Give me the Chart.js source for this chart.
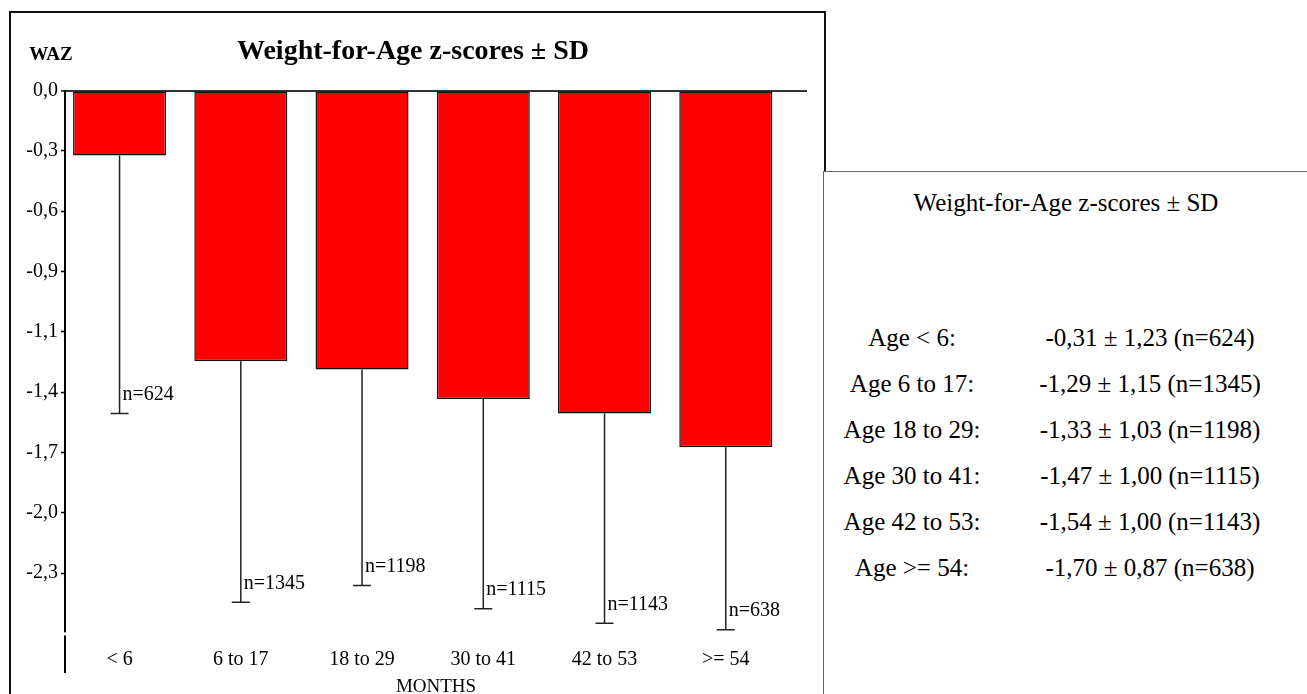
<!DOCTYPE html>
<html>
<head>
<meta charset="utf-8">
<script src="https://cdn.jsdelivr.net/npm/chart.js@4.4.1/dist/chart.umd.min.js"></script>
<style>
  html, body { margin: 0; padding: 0; background: #fff; }
  body { width: 1307px; height: 694px; position: relative; overflow: hidden; font-family: "Liberation Serif", "Times New Roman", serif; color: #000; }
  #leftBox { position: absolute; left: 9px; top: 11px; width: 813px; height: 720px; border: 2px solid #111; }
  #chartWrap { position: absolute; left: 0; top: 0; width: 826px; height: 700px; }
  #rightBox { position: absolute; left: 823px; top: 171px; width: 500px; height: 540px; border: 1px solid #666; background: #fff; font-size: 25px; }
  #rightTitle { position: absolute; left: 0; width: 484px; top: 16px; line-height: 30px; text-align: center; }
  .row { position: absolute; left: 0; height: 30px; line-height: 30px; display: flex; }
  .row .lab { width: 176px; text-align: center; }
  .row .val { width: 300px; text-align: center; }
</style>
</head>
<body>
<div id="leftBox"></div>
<div id="chartWrap"><canvas id="wazChart"></canvas></div>
<div id="rightBox">
  <div id="rightTitle">Weight-for-Age z-scores ± SD</div>
</div>
<script>
  // age groups (months)
  const categories = ["< 6", "6 to 17", "18 to 29", "30 to 41", "42 to 53", ">= 54"];
  // mean WAZ, SD and sample size per group
  const means  = [-0.31, -1.29, -1.33, -1.47, -1.54, -1.70];
  const sds    = [1.23, 1.15, 1.03, 1.00, 1.00, 0.87];
  const counts = [624, 1345, 1198, 1115, 1143, 638];
  // y axis ticks as printed in the original (evenly spaced, rounded labels)
  const yTickValues = [0, -0.2875, -0.575, -0.8625, -1.15, -1.4375, -1.725, -2.0125, -2.3];
  const yTickLabels = ["0,0", "-0,3", "-0,6", "-0,9", "-1,1", "-1,4", "-1,7", "-2,0", "-2,3"];

  const FONT = '"Liberation Serif", "Times New Roman", serif';

  function fmt(v) {
    return v.toFixed(2).replace(".", ",");
  }

  // right hand summary box
  (() => {
    const box = document.getElementById("rightBox");
    categories.forEach((c, i) => {
      const row = document.createElement("div");
      row.className = "row";
      row.style.top = (151 + i * 46) + "px";
      row.innerHTML = '<span class="lab"></span><span class="val"></span>';
      row.querySelector(".lab").textContent = "Age " + c + ":";
      row.querySelector(".val").textContent = fmt(means[i]) + " ± " + fmt(sds[i]) + " (n=" + counts[i] + ")";
      box.appendChild(row);
    });
  })();

  // whiskers (mean - SD) with n= labels
  const errorBars = {
    id: "errorBars",
    afterDatasetsDraw(chart) {
      const { ctx } = chart;
      const y = chart.scales.y;
      const meta = chart.getDatasetMeta(0);
      ctx.save();
      ctx.strokeStyle = "#222";
      ctx.lineWidth = 1.5;
      ctx.fillStyle = "#000";
      ctx.font = "20px " + FONT;
      ctx.textAlign = "left";
      ctx.textBaseline = "middle";
      meta.data.forEach((bar, i) => {
        const x = bar.x;
        const y0 = y.getPixelForValue(means[i]);
        const y1 = y.getPixelForValue(means[i] - sds[i]);
        ctx.beginPath();
        ctx.moveTo(x, y0);
        ctx.lineTo(x, y1);
        ctx.moveTo(x - 9, y1);
        ctx.lineTo(x + 9, y1);
        ctx.stroke();
        ctx.fillText("n=" + counts[i], x + 3, y1 - 19);
      });
      ctx.restore();
    }
  };

  // "WAZ" label over the axis + small break in the axis line
  const axisExtras = {
    id: "axisExtras",
    afterDraw(chart) {
      const { ctx, chartArea } = chart;
      const y = chart.scales.y;
      ctx.save();
      ctx.fillStyle = "#000";
      ctx.font = "bold 19px " + FONT;
      ctx.textAlign = "center";
      ctx.textBaseline = "middle";
      ctx.fillText("WAZ", chartArea.left - 14, chartArea.top - 36);
      const yb = y.getPixelForValue(-2.59);
      ctx.fillStyle = "#fff";
      ctx.fillRect(chartArea.left - 3, yb - 1.5, 6, 3);
      ctx.restore();
    }
  };

  new Chart(document.getElementById("wazChart"), {
    type: "bar",
    data: {
      datasets: [{
        data: means.map((m, i) => ({ x: i, y: m })),
        backgroundColor: "#ff0000",
        borderColor: "#111",
        borderWidth: 1.5,
        borderSkipped: false,
        barPercentage: 0.767,
        categoryPercentage: 1
      }]
    },
    options: {
      responsive: true,
      maintainAspectRatio: false,
      animation: false,
      layout: { padding: { left: 19, right: 19, top: 0, bottom: 0 } },
      plugins: {
        legend: { display: false },
        tooltip: { enabled: false },
        title: {
          display: true,
          text: "Weight-for-Age z-scores ± SD",
          color: "#000",
          font: { family: FONT, size: 28, weight: "bold" },
          padding: { top: 35, bottom: 22 }
        }
      },
      scales: {
        x: {
          type: "linear",
          offset: false,
          min: -0.45,
          max: 5.67,
          afterBuildTicks: (scale) => { scale.ticks = categories.map((c, i) => ({ value: i })); },
          afterFit: (scale) => { scale.height = 28; },
          grid: { display: false },
          border: { display: false },
          ticks: {
            autoSkip: false,
            maxRotation: 0,
            mirror: true,
            padding: 0,
            color: "#000",
            font: { family: FONT, size: 20 },
            callback: (v) => categories[v]
          },
          title: {
            display: true,
            text: "MONTHS",
            color: "#000",
            font: { family: FONT, size: 19, lineHeight: 1 },
            padding: { top: 0, bottom: 3 }
          }
        },
        y: {
          min: -2.772,
          max: 0,
          afterBuildTicks: (scale) => { scale.ticks = yTickValues.map(v => ({ value: v })); },
          afterFit: (scale) => { scale.width = 46; },
          border: { display: true, color: "#000", width: 2 },
          grid: {
            drawTicks: true,
            tickLength: 4,
            tickColor: "#000",
            tickWidth: 1.5,
            color: (c) => (c.tick && c.tick.value === 0 ? "#333" : "rgba(0,0,0,0)"),
            lineWidth: (c) => (c.tick && c.tick.value === 0 ? 2 : 1)
          },
          ticks: {
            padding: 3,
            color: "#000",
            font: { family: FONT, size: 20 },
            callback: (v, i) => yTickLabels[i]
          }
        }
      }
    },
    plugins: [errorBars, axisExtras]
  });
</script>
</body>
</html>
